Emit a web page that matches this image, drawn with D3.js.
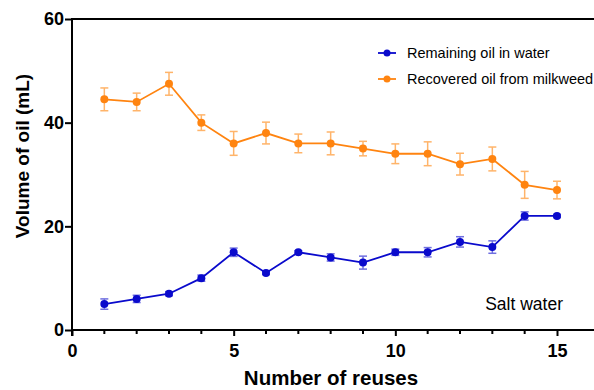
<!DOCTYPE html>
<html>
<head>
<meta charset="utf-8">
<script src="https://cdn.jsdelivr.net/npm/d3@7"></script>
<style>
  body { margin: 0; background: #fff; }
  text { font-family: "Liberation Sans", Arial, sans-serif; }
</style>
</head>
<body>
<div id="chart"></div>
<script>
// Data
const reuses = [1, 2, 3, 4, 5, 6, 7, 8, 9, 10, 11, 12, 13, 14, 15];
const remaining = [5, 6, 7, 10, 15, 11, 15, 14, 13, 15, 15, 17, 16, 22, 22];
const remainingErr = [1, 0.7, 0.4, 0.6, 0.8, 0.3, 0.3, 0.7, 1.25, 0.6, 0.9, 1, 1.2, 0.8, 0.3];
const recovered = [44.5, 44, 47.5, 40, 36, 38, 36, 36, 35, 34, 34, 32, 33, 28, 27];
const recoveredErr = [2.2, 1.7, 2.2, 1.5, 2.3, 2.1, 1.8, 2.2, 1.4, 1.9, 2.3, 2.1, 2.3, 2.6, 1.7];
const seriesNames = ["Remaining oil in water", "Recovered oil from milkweed"];
const yTicks = [0, 20, 40, 60];
const xTicks = [0, 5, 10, 15];

const series = [
  { name: seriesNames[0], values: remaining, err: remainingErr, color: "#0a0acc", errColor: "#6f6fe0" },
  { name: seriesNames[1], values: recovered, err: recoveredErr, color: "#ff8410", errColor: "#ffb46a" }
];

// Margin convention
const margin = {top: 19, left: 72, right: 0, bottom: 60};
const width = 594 - margin.left - margin.right;
const height = 390 - margin.top - margin.bottom;

const svg = d3.select("#chart").append("svg")
    .attr("width", 594)
    .attr("height", 390)
  .append("g")
    .attr("transform", `translate(${margin.left},${margin.top})`);

const xScale = d3.scaleLinear().domain([0, 15]).range([0, 485]);
const yScale = d3.scaleLinear().domain([0, 60]).range([height, 0]);

// Axes
const xAxis = svg.append("g")
    .attr("transform", `translate(0,${height})`)
    .call(d3.axisBottom(xScale).tickValues(xTicks).tickSize(6).tickSizeOuter(0).tickFormat(d3.format("d")));
xAxis.select(".domain").remove();
xAxis.selectAll("text").attr("dy", "0.95em").attr("y", 10);

// minor x ticks
svg.append("g")
  .selectAll("line")
  .data(reuses.filter(d => d % 5 !== 0))
  .join("line")
    .attr("x1", d => xScale(d)).attr("x2", d => xScale(d))
    .attr("y1", height).attr("y2", height + 4)
    .attr("stroke", "#000").attr("stroke-width", 2);

const yAxis = svg.append("g")
    .call(d3.axisLeft(yScale).tickValues(yTicks).tickSize(7).tickSizeOuter(0));
yAxis.select(".domain").remove();
yAxis.selectAll("text").attr("x", -8);

svg.selectAll(".tick line").attr("stroke", "#000").attr("stroke-width", 2);
svg.selectAll(".tick text")
    .attr("font-size", 18)
    .attr("font-weight", "bold")
    .attr("fill", "#000");

// axis lines
svg.append("line")
    .attr("x1", 0).attr("x2", width)
    .attr("y1", height).attr("y2", height)
    .attr("stroke", "#000").attr("stroke-width", 2);
svg.append("line")
    .attr("x1", 0).attr("x2", width)
    .attr("y1", 0).attr("y2", 0)
    .attr("stroke", "#000").attr("stroke-width", 2);
svg.append("line")
    .attr("x1", 0).attr("x2", 0)
    .attr("y1", -1).attr("y2", height + 6)
    .attr("stroke", "#000").attr("stroke-width", 2);

// Series
const line = d3.line()
    .x((d, i) => xScale(reuses[i]))
    .y(d => yScale(d));

series.forEach(s => {
  const g = svg.append("g");
  // error bars
  const eb = g.selectAll(".err")
    .data(s.values)
    .join("g")
      .attr("stroke", s.errColor)
      .attr("stroke-width", 1.5);
  eb.append("line")
      .attr("x1", (d, i) => xScale(reuses[i])).attr("x2", (d, i) => xScale(reuses[i]))
      .attr("y1", (d, i) => yScale(d - s.err[i])).attr("y2", (d, i) => yScale(d + s.err[i]));
  eb.append("line")
      .attr("x1", (d, i) => xScale(reuses[i]) - 4).attr("x2", (d, i) => xScale(reuses[i]) + 4)
      .attr("y1", (d, i) => yScale(d + s.err[i])).attr("y2", (d, i) => yScale(d + s.err[i]));
  eb.append("line")
      .attr("x1", (d, i) => xScale(reuses[i]) - 4).attr("x2", (d, i) => xScale(reuses[i]) + 4)
      .attr("y1", (d, i) => yScale(d - s.err[i])).attr("y2", (d, i) => yScale(d - s.err[i]));

  g.append("path")
      .datum(s.values)
      .attr("fill", "none")
      .attr("stroke", s.color)
      .attr("stroke-width", 1.8)
      .attr("d", line);

  g.selectAll("circle")
    .data(s.values)
    .join("circle")
      .attr("cx", (d, i) => xScale(reuses[i]))
      .attr("cy", d => yScale(d))
      .attr("r", 4)
      .attr("fill", s.color);
});

// Legend
const legend = svg.append("g").attr("transform", "translate(306,34)");
series.forEach((s, i) => {
  const lg = legend.append("g").attr("transform", `translate(0,${i * 26})`);
  lg.append("line").attr("x1", 0).attr("x2", 18).attr("y1", 0).attr("y2", 0)
    .attr("stroke", s.color).attr("stroke-width", 1.8);
  lg.append("circle").attr("cx", 9).attr("cy", 0).attr("r", 3.5).attr("fill", s.color);
  lg.append("text").attr("x", 29).attr("y", 0).attr("dy", "0.35em")
    .attr("font-size", 14.5).attr("fill", "#000").text(s.name);
});

// Annotation
svg.append("text")
    .attr("x", 491).attr("y", 285).attr("dy", "0.35em")
    .attr("text-anchor", "end")
    .attr("font-size", 17.5).attr("fill", "#000")
    .text("Salt water");

// Axis titles
svg.append("text")
    .attr("x", 259).attr("y", 366)
    .attr("text-anchor", "middle")
    .attr("font-size", 20.5).attr("font-weight", "bold")
    .text("Number of reuses");

svg.append("text")
    .attr("transform", `translate(-43,137) rotate(-90)`)
    .attr("text-anchor", "middle")
    .attr("font-size", 19).attr("font-weight", "bold")
    .text("Volume of oil (mL)");
</script>
</body>
</html>
